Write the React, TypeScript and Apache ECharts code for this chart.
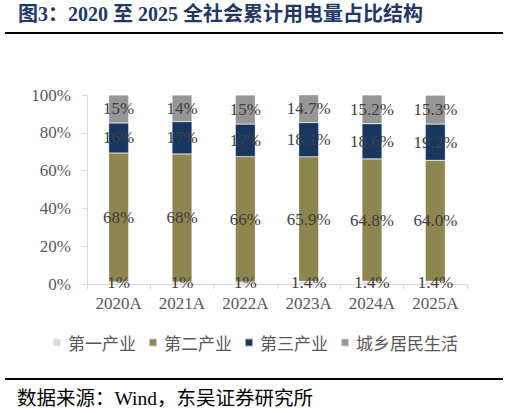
import React, { useEffect, useRef } from "react";
import * as echarts from "echarts";

const categories = ["2020A", "2021A", "2022A", "2023A", "2024A", "2025A"];
const primaryIndustry = [1.1, 1.1, 1.1, 1.4, 1.4, 1.4];
const secondaryIndustry = [68.2, 67.7, 66.3, 65.9, 64.8, 64.0];
const tertiaryIndustry = [15.9, 17.1, 17.2, 18.1, 18.6, 19.2];
const residential = [14.8, 14.1, 15.4, 14.7, 15.2, 15.3];
const labelDecimals = [0, 0, 0, 1, 1, 1];
const seriesNames = ["第一产业", "第二产业", "第三产业", "城乡居民生活"];
const yTicks = [0, 20, 40, 60, 80, 100];

const SERIF = '"Times New Roman", "Liberation Serif", "Noto Sans CJK SC", serif';
const CJK = '"Noto Sans CJK SC", "Liberation Serif", sans-serif';

export default function App() {
  const ref = useRef<HTMLDivElement>(null);
  useEffect(() => {
    if (!ref.current) return;
    const chart = echarts.init(ref.current, undefined, { renderer: "svg" });
    const colors = ["#d9d9d9", "#8e8651", "#17375e", "#969696"];
    const dataSets = [primaryIndustry, secondaryIndustry, tertiaryIndustry, residential];
    const series = dataSets.map((d, i) => ({
      name: seriesNames[i],
      type: "bar",
      stack: "total",
      barWidth: 20,
      data: d,
      itemStyle: { color: colors[i], borderColor: "rgba(255,255,255,0.6)", borderWidth: 0.5 },
      label: {
        show: true,
        position: "inside",
        color: "#404040",
        fontFamily: SERIF,
        fontSize: 17,
        formatter: (p: any) => `${Number(p.value).toFixed(labelDecimals[p.dataIndex])}%`,
      },
    }));
    chart.setOption({
      animation: false,
      color: colors,
      grid: { left: 87, right: 43, top: 95, bottom: 129, containLabel: false },
      xAxis: {
        type: "category",
        data: categories,
        axisLine: { lineStyle: { color: "#d9d9d9", width: 1 } },
        axisTick: { show: true, length: 5, lineStyle: { color: "#d9d9d9" } },
        axisLabel: { color: "#595959", fontFamily: SERIF, fontSize: 17, margin: 11 },
      },
      yAxis: {
        type: "value",
        min: yTicks[0],
        max: yTicks[yTicks.length - 1],
        interval: 20,
        axisLine: { show: true, lineStyle: { color: "#d9d9d9", width: 1 } },
        axisTick: { show: true, length: 5, lineStyle: { color: "#d9d9d9" } },
        splitLine: { show: false },
        axisLabel: { color: "#595959", fontFamily: SERIF, fontSize: 17, margin: 16, formatter: "{value}%" },
      },
      legend: {
        data: seriesNames,
        left: "center",
        top: 329,
        icon: "rect",
        itemWidth: 8,
        itemHeight: 8,
        itemGap: 12,
        textStyle: { color: "#595959", fontFamily: CJK, fontSize: 17, padding: [0, 0, 0, 2] },
      },
      graphic: [
        {
          type: "text",
          left: 18,
          top: 4,
          style: {
            text: "图3：2020 至 2025 全社会累计用电量占比结构",
            font: `bold 20px ${SERIF}`,
            fill: "#1f3864",
          },
        },
        { type: "line", shape: { x1: 5, y1: 33, x2: 503, y2: 33 }, style: { stroke: "#000", lineWidth: 2 } },
        { type: "line", shape: { x1: 5, y1: 379, x2: 503, y2: 379 }, style: { stroke: "#000", lineWidth: 2 } },
        {
          type: "text",
          left: 17,
          top: 389,
          style: { text: "数据来源：Wind，东吴证券研究所", font: `19.5px ${SERIF}`, fill: "#000" },
        },
      ],
      series,
    });
    return () => chart.dispose();
  }, []);
  return <div ref={ref} style={{ position: "fixed", left: 0, top: 0, width: 510, height: 413, background: "#fff" }} />;
}
